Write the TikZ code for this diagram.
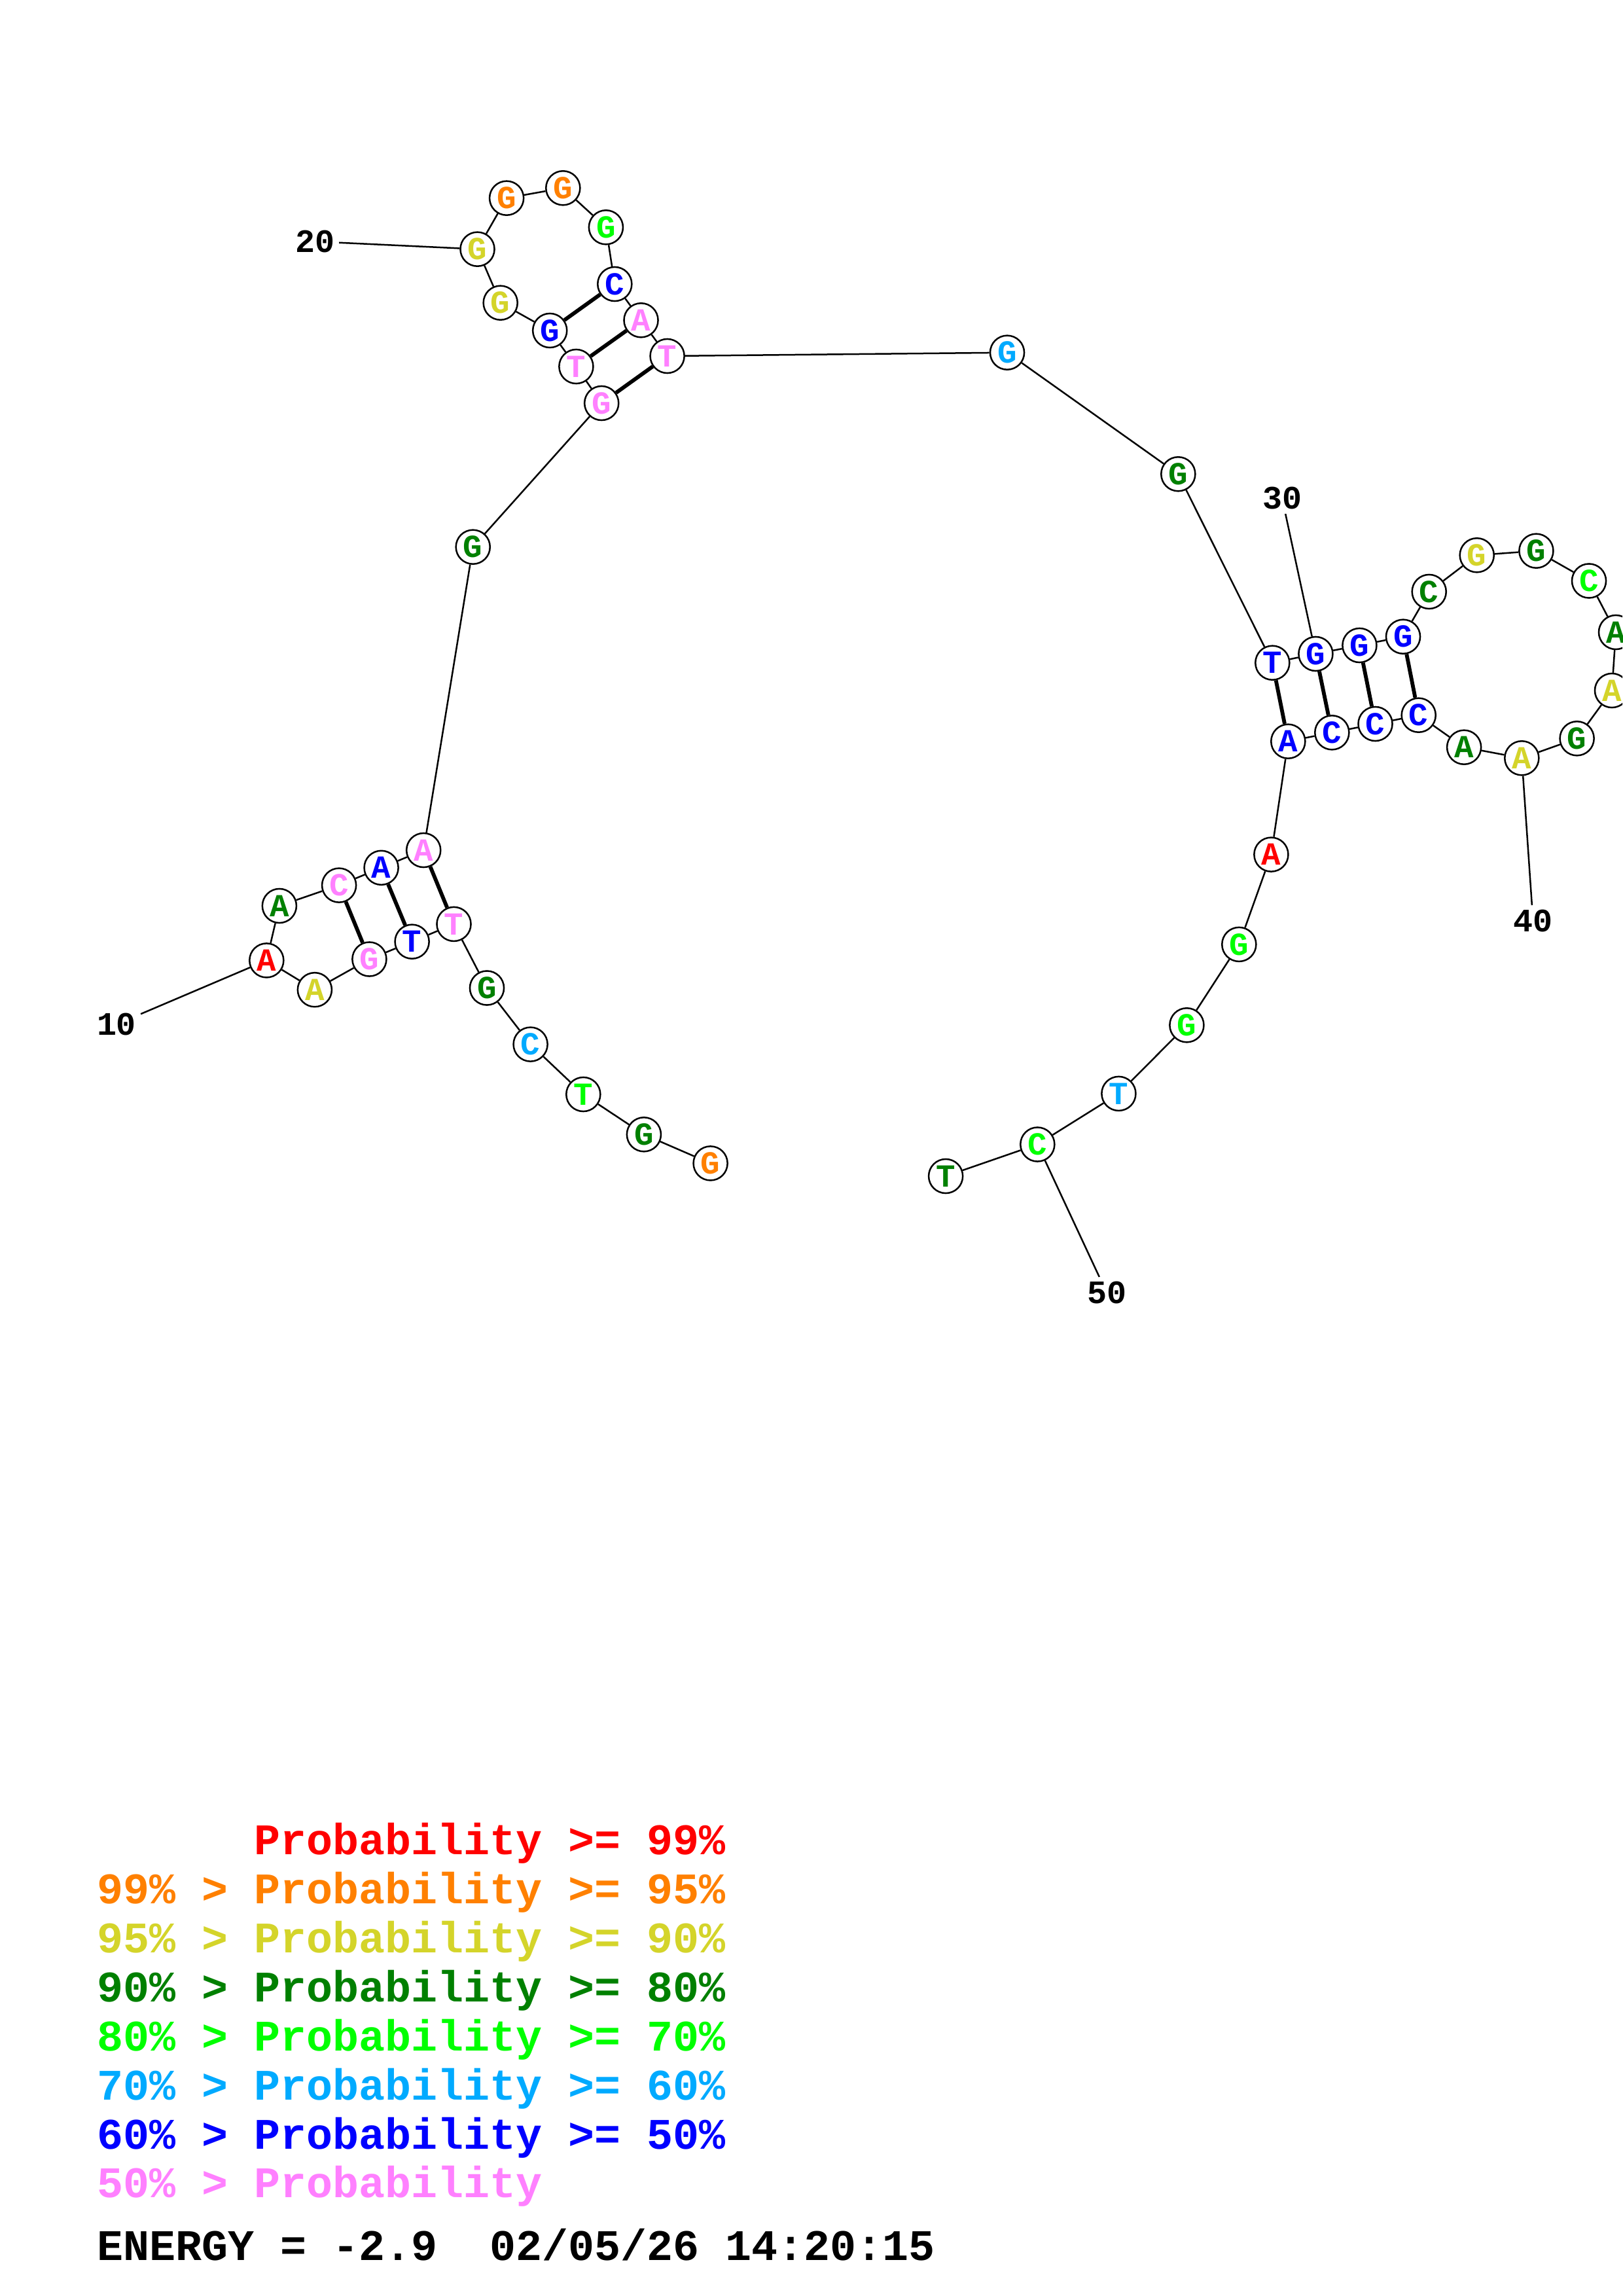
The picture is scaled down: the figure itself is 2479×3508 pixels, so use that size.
\documentclass[tikz,border=0pt]{standalone}
\usepackage{fontspec}
\newfontfamily\mono{Liberation Mono}
\definecolor{cred}{RGB}{255,0,0}
\definecolor{corg}{RGB}{255,128,0}
\definecolor{cyel}{RGB}{212,212,42}
\definecolor{cdkg}{RGB}{0,128,0}
\definecolor{cgrn}{RGB}{0,255,0}
\definecolor{clbl}{RGB}{0,170,255}
\definecolor{cblu}{RGB}{0,0,255}
\definecolor{cpnk}{RGB}{255,128,255}
\tikzset{
  nt/.style={circle, draw=black, fill=white, line width=0.6pt, minimum size=12.5pt, inner sep=0pt,
    text=#1, font=\mono\bfseries\fontsize{11.8}{12}\selectfont},
  bb/.style={draw=black, line width=0.6pt},
  pairline/.style={draw=black, line width=1.4pt},
  numlbl/.style={inner sep=1.5pt, font=\mono\bfseries\fontsize{12}{12}\selectfont},
  leg/.style={anchor=base west, inner sep=0pt, text=#1, font=\mono\bfseries\fontsize{16}{16}\selectfont}
}
\begin{document}
\begin{tikzpicture}[x=0.24pt, y=-0.24pt]
\useasboundingbox (0,0) rectangle (2479,3508);
\fill[white] (0,0) rectangle (2479,3508);
\clip (0,0) rectangle (2479,3508);
% nucleotides
\node[nt=corg] (n1) at (1085.6,1777.4) {G};
\node[nt=cdkg] (n2) at (983.9,1733.3) {G};
\node[nt=cgrn] (n3) at (891.3,1672) {T};
\node[nt=clbl] (n4) at (810.6,1595.6) {C};
\node[nt=cdkg] (n5) at (744,1509.5) {G};
\node[nt=cpnk] (n6) at (693.5,1411.9) {T};
\node[nt=cblu] (n7) at (629.6,1438.7) {T};
\node[nt=cpnk] (n8) at (564.4,1465.5) {G};
\node[nt=cyel] (n9) at (480.9,1512.2) {A};
\node[nt=cred] (n10) at (407.3,1467.4) {A};
\node[nt=cdkg] (n11) at (426.9,1384) {A};
\node[nt=cpnk] (n12) at (518.1,1352.6) {C};
\node[nt=cblu] (n13) at (582.6,1325.8) {A};
\node[nt=cpnk] (n14) at (647.2,1299) {A};
\node[nt=cdkg] (n15) at (722.7,835.7) {G};
\node[nt=cpnk] (n16) at (919.2,616) {G};
\node[nt=cpnk] (n17) at (880.4,560) {T};
\node[nt=cblu] (n18) at (840.2,505) {G};
\node[nt=cyel] (n19) at (764.7,462.7) {G};
\node[nt=cyel] (n20) at (729.5,380.7) {G};
\node[nt=corg] (n21) at (774.1,302.7) {G};
\node[nt=corg] (n22) at (860.3,287.3) {G};
\node[nt=cgrn] (n23) at (925.9,347.3) {G};
\node[nt=cblu] (n24) at (939.3,434) {C};
\node[nt=cpnk] (n25) at (979.5,489.3) {A};
\node[nt=cpnk] (n26) at (1019.6,544) {T};
\node[nt=clbl] (n27) at (1539,538.7) {G};
\node[nt=cdkg] (n28) at (1800.3,724.3) {G};
\node[nt=cblu] (n29) at (1944.3,1012.7) {T};
\node[nt=cblu] (n30) at (2010.4,999) {G};
\node[nt=cblu] (n31) at (2077.4,986) {G};
\node[nt=cblu] (n32) at (2144,972.7) {G};
\node[nt=cdkg] (n33) at (2183.7,904) {C};
\node[nt=cyel] (n34) at (2256.7,848.3) {G};
\node[nt=cdkg] (n35) at (2347.4,841.7) {G};
\node[nt=cgrn] (n36) at (2428,887.5) {C};
\node[nt=cdkg] (n37) at (2469,966) {A};
\node[nt=cyel] (n38) at (2463,1055) {A};
\node[nt=cdkg] (n39) at (2409.6,1128.3) {G};
\node[nt=cyel] (n40) at (2325.3,1158.3) {A};
\node[nt=cdkg] (n41) at (2237.1,1141.7) {A};
\node[nt=cblu] (n42) at (2167.7,1092.7) {C};
\node[nt=cblu] (n43) at (2101.5,1106) {C};
\node[nt=cblu] (n44) at (2035.3,1119.3) {C};
\node[nt=cblu] (n45) at (1968.3,1132.7) {A};
\node[nt=cred] (n46) at (1942.4,1305.6) {A};
\node[nt=cgrn] (n47) at (1893.3,1442.9) {G};
\node[nt=cgrn] (n48) at (1813.4,1566.3) {G};
\node[nt=clbl] (n49) at (1709.4,1670.9) {T};
\node[nt=cgrn] (n50) at (1585.3,1748.5) {C};
\node[nt=cdkg] (n51) at (1445.1,1797) {T};
% backbone
\foreach \i [evaluate=\i as \j using int(\i+1)] in {1,...,50} {
  \draw[bb] (n\i) -- (n\j);
}
% base pairs
\draw[pairline] (n8) -- (n12);
\draw[pairline] (n7) -- (n13);
\draw[pairline] (n6) -- (n14);
\draw[pairline] (n18) -- (n24);
\draw[pairline] (n17) -- (n25);
\draw[pairline] (n16) -- (n26);
\draw[pairline] (n29) -- (n45);
\draw[pairline] (n30) -- (n44);
\draw[pairline] (n31) -- (n43);
\draw[pairline] (n32) -- (n42);
% numbering labels
\node[numlbl] (l10) at (178,1565) {10};
\node[numlbl] (l20) at (481,369) {20};
\node[numlbl] (l30) at (1959,761) {30};
\node[numlbl] (l40) at (2342.5,1407) {40};
\node[numlbl] (l50) at (1691,1975) {50};
\draw[bb] (l10) -- (n10);
\draw[bb] (l20) -- (n20);
\draw[bb] (l30) -- (n30);
\draw[bb] (l40) -- (n40);
\draw[bb] (l50) -- (n50);
% legend
\node[leg=cred] (g1) at (148,2833) {\phantom{99\% > }Probability >= 99\%};
\node[leg=corg] (g2) at (148,2908) {99\% > Probability >= 95\%};
\node[leg=cyel] (g3) at (148,2983) {95\% > Probability >= 90\%};
\node[leg=cdkg] (g4) at (148,3058) {90\% > Probability >= 80\%};
\node[leg=cgrn] (g5) at (148,3133) {80\% > Probability >= 70\%};
\node[leg=clbl] (g6) at (148,3208) {70\% > Probability >= 60\%};
\node[leg=cblu] (g7) at (148,3283) {60\% > Probability >= 50\%};
\node[leg=cpnk] (g8) at (148,3357) {50\% > Probability};
\node[leg=black] (en) at (148,3453) {ENERGY = -2.9~~02/05/26 14:20:15};
\end{tikzpicture}
\end{document}
